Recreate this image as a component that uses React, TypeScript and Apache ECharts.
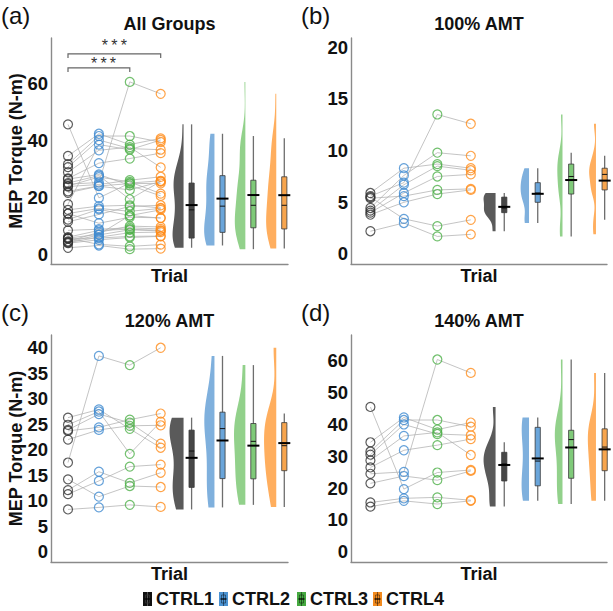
import React, { useEffect, useRef } from "react";
import * as echarts from "echarts";

// ---------------- DATA ----------------
const groups = ["CTRL1", "CTRL2", "CTRL3", "CTRL4"];

// rows = subjects, columns = CTRL1..CTRL4 (MEP torque, N-m)
const amt100 = [
  [5.9, 8.3, 8.7, 8.3],
  [5.6, 6.9, 13.5, 12.6],
  [5.4, 5.6, 6.2, 6.3],
  [5.5, 3.4, 2.7, 3.3],
  [4.45, 7.6, 9.8, 9.5],
  [4.2, 6.7, 8.5, 8.1],
  [4.0, 5.9, 7.5, 7.7],
  [3.8, 5.0, 5.8, 6.2],
  [2.2, 3.0, 1.7, 1.9],
];

const amt120 = [
  [8.3, 8.7, 9.2, 8.8],
  [17.5, 38.4, 36.6, 40.0],
  [14.2, 10.8, 12.9, 12.7],
  [12.1, 15.7, 13.5, 15.5],
  [11.3, 13.9, 16.7, 17.1],
  [26.3, 27.9, 24.1, 20.4],
  [24.9, 27.5, 19.2, 25.5],
  [23.9, 27.0, 25.3, 21.2],
  [23.7, 24.4, 25.9, 27.1],
  [22.0, 23.9, 24.7, 24.8],
];

const amt140 = [
  [45.5, 19.7, 24.9, 25.7],
  [24.5, 25.1, 60.4, 56.2],
  [21.5, 23.8, 22.5, 25.4],
  [15.5, 16.8, 17.1, 16.2],
  [14.2, 16.0, 15.0, 16.0],
  [34.4, 42.2, 38.4, 40.6],
  [31.5, 41.4, 41.4, 39.3],
  [30.5, 40.0, 37.0, 36.6],
  [28.7, 36.4, 37.5, 30.4],
  [26.5, 31.9, 33.5, 35.4],
];

const allGroups = [...amt100, ...amt120, ...amt140];

const ticksAll = [0, 20, 40, 60];
const ticks100 = [0, 5, 10, 15, 20];
const ticks120 = [0, 5, 10, 15, 20, 25, 30, 35, 40];
const ticks140 = [0, 10, 20, 30, 40, 50, 60];

// significance brackets for "All Groups": [fromGroup, toGroup, barY, tipY, starX, starY]
const brackets = [
  [1, 3, 65.3, 63.9, 2.15, 66.8],
  [1, 4, 70.2, 68.8, 2.5, 73.2],
];

// ---------------- STYLE ----------------
const FONT = '"Liberation Sans", Arial, Helvetica, sans-serif';
const pointColors = ["#333333", "#3f8ad0", "#4fb04a", "#ff8c1a"];
const violinColors = ["#5a5a5a", "#7fb0dd", "#92d18b", "#ffae5e"];
const boxColors = ["#474747", "#6aa5da", "#7fca79", "#f7a54e"];
const legendColors = ["#111111", "#4b93d3", "#45a940", "#f28a1e"];
const axisColor = "#8a8a8a";

type PanelCfg = {
  rows: number[][];
  left: number;
  top: number;
  width: number;
  height: number;
  yMin: number;
  yMax: number;
  xMin: number;
  xMax: number;
  ticks: number[];
  violinPx: number;
  title: string;
  tag: string;
};

const panels: PanelCfg[] = [
  { rows: allGroups, left: 51, top: 38, width: 237, height: 226, yMin: -3.5, yMax: 75.8, xMin: 0.45, xMax: 8.12, ticks: ticksAll, violinPx: 11, title: "All Groups", tag: "(a)" },
  { rows: amt100, left: 351, top: 38, width: 256, height: 226, yMin: -0.97, yMax: 20.9, xMin: 0.42, xMax: 8.07, ticks: ticks100, violinPx: 12, title: "100% AMT", tag: "(b)" },
  { rows: amt120, left: 51, top: 335, width: 237, height: 227, yMin: -2.0, yMax: 42.5, xMin: 0.45, xMax: 8.12, ticks: ticks120, violinPx: 14, title: "120% AMT", tag: "(c)" },
  { rows: amt140, left: 351, top: 335, width: 256, height: 227, yMin: -3.2, yMax: 68.1, xMin: 0.42, xMax: 8.07, ticks: ticks140, violinPx: 12, title: "140% AMT", tag: "(d)" },
];

// ---------------- STATS ----------------
function quantile(s: number[], p: number) {
  const h = (s.length - 1) * p;
  const lo = Math.floor(h);
  const hi = Math.min(lo + 1, s.length - 1);
  return s[lo] + (h - lo) * (s[hi] - s[lo]);
}

function boxStats(vals: number[]) {
  const s = [...vals].sort((a, b) => a - b);
  const q1 = quantile(s, 0.25);
  const med = quantile(s, 0.5);
  const q3 = quantile(s, 0.75);
  const iqr = q3 - q1;
  const lo = s.filter((v) => v >= q1 - 1.5 * iqr)[0];
  const hiArr = s.filter((v) => v <= q3 + 1.5 * iqr);
  const hi = hiArr[hiArr.length - 1];
  const mean = s.reduce((a, b) => a + b, 0) / s.length;
  return { q1, med, q3, lo, hi, mean, min: s[0], max: s[s.length - 1] };
}

function kde(vals: number[]) {
  const n = vals.length;
  const s = [...vals].sort((a, b) => a - b);
  const mean = s.reduce((a, b) => a + b, 0) / n;
  const sd = Math.sqrt(s.reduce((a, b) => a + (b - mean) * (b - mean), 0) / (n - 1));
  const iqr = quantile(s, 0.75) - quantile(s, 0.25);
  const spread = iqr > 0 ? Math.min(sd, iqr / 1.34) : sd;
  const bw = 0.9 * spread * Math.pow(n, -0.2);
  const ys: number[] = [];
  const ds: number[] = [];
  const N = 100;
  for (let k = 0; k < N; k++) {
    const y = s[0] + ((s[n - 1] - s[0]) * k) / (N - 1);
    let d = 0;
    for (const v of s) {
      const z = (y - v) / bw;
      d += Math.exp(-0.5 * z * z);
    }
    d /= n * bw * Math.sqrt(2 * Math.PI);
    ys.push(y);
    ds.push(d);
  }
  return { ys, ds };
}

// ---------------- OPTION ----------------
function buildOption() {
  const grid: any[] = [];
  const xAxis: any[] = [];
  const yAxis: any[] = [];
  const series: any[] = [];
  const graphic: any[] = [];

  panels.forEach((p, pi) => {
    grid.push({ left: p.left, top: p.top, width: p.width, height: p.height, containLabel: false });
    xAxis.push({
      type: "value",
      gridIndex: pi,
      min: p.xMin,
      max: p.xMax,
      axisLine: { show: true, onZero: false, lineStyle: { color: axisColor, width: 1.4 } },
      axisTick: { show: false },
      axisLabel: { show: false },
      splitLine: { show: false },
    });
    yAxis.push({
      type: "value",
      gridIndex: pi,
      min: p.yMin,
      max: p.yMax,
      axisLine: { show: true, onZero: false, lineStyle: { color: axisColor, width: 1.4 } },
      axisTick: { show: false },
      splitLine: { show: false },
      axisLabel: {
        customValues: p.ticks,
        fontSize: 18.5,
        fontWeight: "bold",
        fontFamily: FONT,
        color: "#111",
        margin: 3,
      },
    });

    // paired lines
    p.rows.forEach((r) => {
      series.push({
        type: "line",
        xAxisIndex: pi,
        yAxisIndex: pi,
        data: r.map((v, g) => [g + 1, v]),
        symbol: "none",
        silent: true,
        lineStyle: { color: "#b0b0b0", width: 1, opacity: 0.75 },
        z: 1,
      });
    });

    // points
    groups.forEach((g, gi) => {
      series.push({
        type: "scatter",
        name: g,
        xAxisIndex: pi,
        yAxisIndex: pi,
        data: p.rows.map((r) => [gi + 1, r[gi]]),
        symbol: "circle",
        symbolSize: 9,
        itemStyle: { color: "rgba(255,255,255,0)", borderColor: pointColors[gi], borderWidth: 1.2 },
        z: 3,
      });
    });

    // half violins
    const profiles = groups.map((_, gi) => kde(p.rows.map((r) => r[gi])));
    const dmax = Math.max(...profiles.map((pr) => Math.max(...pr.ds)));
    const violinData = groups.map((_, gi) => {
      const st = boxStats(p.rows.map((r) => r[gi]));
      return [5 + gi - 0.26, st.min, st.max];
    });
    series.push({
      type: "custom",
      xAxisIndex: pi,
      yAxisIndex: pi,
      data: violinData,
      encode: { x: 0, y: [1, 2] },
      z: 2,
      renderItem: (params: any, api: any) => {
        const gi = params.dataIndex;
        const pr = profiles[gi];
        const edge = violinData[gi][0];
        const pts: number[][] = [];
        const b = api.coord([edge, pr.ys[0]]);
        const t = api.coord([edge, pr.ys[pr.ys.length - 1]]);
        pts.push([b[0], b[1]]);
        pts.push([t[0], t[1]]);
        for (let k = pr.ys.length - 1; k >= 0; k--) {
          const c = api.coord([edge, pr.ys[k]]);
          pts.push([c[0] - (pr.ds[k] / dmax) * p.violinPx, c[1]]);
        }
        return { type: "polygon", shape: { points: pts }, style: { fill: violinColors[gi], stroke: "none" } };
      },
    });

    // boxes
    const boxData = groups.map((_, gi) => {
      const st = boxStats(p.rows.map((r) => r[gi]));
      return [5 + gi, st.lo, st.q1, st.med, st.q3, st.hi, st.mean];
    });
    series.push({
      type: "custom",
      xAxisIndex: pi,
      yAxisIndex: pi,
      data: boxData,
      encode: { x: 0, y: [1, 5] },
      z: 4,
      renderItem: (params: any, api: any) => {
        const gi = params.dataIndex;
        const d = boxData[gi];
        const lo = api.coord([d[0], d[1]]);
        const q1 = api.coord([d[0], d[2]]);
        const md = api.coord([d[0], d[3]]);
        const q3 = api.coord([d[0], d[4]]);
        const hi = api.coord([d[0], d[5]]);
        const mn = api.coord([d[0], d[6]]);
        const x = lo[0];
        const hw = 2.6;
        return {
          type: "group",
          children: [
            { type: "line", shape: { x1: x, y1: lo[1], x2: x, y2: hi[1] }, style: { stroke: "#6e6e6e", lineWidth: 1.3 } },
            {
              type: "rect",
              shape: { x: x - hw, y: q3[1], width: hw * 2, height: q1[1] - q3[1] },
              style: { fill: boxColors[gi], stroke: "#3a3a3a", lineWidth: 0.8 },
            },
            { type: "line", shape: { x1: x - hw, y1: md[1], x2: x + hw, y2: md[1] }, style: { stroke: "#111", lineWidth: 1 } },
            { type: "line", shape: { x1: x - 6, y1: mn[1], x2: x + 6, y2: mn[1] }, style: { stroke: "#000", lineWidth: 2 } },
          ],
        };
      },
    });

    if (pi === 0) {
      series.push({
        type: "custom",
        xAxisIndex: pi,
        yAxisIndex: pi,
        data: brackets,
        encode: { x: [0, 1], y: [2, 3] },
        z: 5,
        renderItem: (params: any, api: any) => {
          const b = brackets[params.dataIndex];
          const a1 = api.coord([b[0], b[3]]);
          const a2 = api.coord([b[0], b[2]]);
          const a3 = api.coord([b[1], b[2]]);
          const a4 = api.coord([b[1], b[3]]);
          const st = api.coord([b[4], b[5]]);
          return {
            type: "group",
            children: [
              {
                type: "polyline",
                shape: { points: [a1, a2, a3, a4] },
                style: { stroke: "#666", lineWidth: 1.2, fill: "none" },
              },
              {
                type: "text",
                style: {
                  text: "*\u2009*\u2009*",
                  x: st[0],
                  y: st[1],
                  textAlign: "center",
                  textVerticalAlign: "middle",
                  font: `16px ${FONT}`,
                  fill: "#333",
                },
              },
            ],
          };
        },
      });
    }

    // texts
    const cx = p.left + p.width / 2;
    graphic.push({
      type: "text",
      x: cx,
      y: p.top - 14,
      style: { text: p.title, font: `bold 18px ${FONT}`, fill: "#111", textAlign: "center", textVerticalAlign: "middle" },
    });
    graphic.push({
      type: "text",
      x: p.left + p.width / 2,
      y: p.top + p.height + 12,
      style: { text: "Trial", font: `bold 18px ${FONT}`, fill: "#111", textAlign: "center", textVerticalAlign: "middle" },
    });
    graphic.push({
      type: "text",
      x: p.left - 50,
      y: p.top - 23,
      style: { text: p.tag, font: `24px ${FONT}`, fill: "#111", textAlign: "left", textVerticalAlign: "middle" },
    });
    if (p.left < 100) {
      graphic.push({
        type: "text",
        x: 15.5,
        y: p.top + p.height / 2,
        rotation: Math.PI / 2,
        style: { text: "MEP Torque (N-m)", font: `bold 18px ${FONT}`, fill: "#111", textAlign: "center", textVerticalAlign: "middle" },
      });
    }
  });

  // legend
  const legendIconX = [143, 219, 297, 373];
  groups.forEach((g, gi) => {
    const x = legendIconX[gi];
    graphic.push({ type: "rect", shape: { x, y: 592, width: 9, height: 14 }, style: { fill: legendColors[gi] } });
    graphic.push({ type: "line", shape: { x1: x + 4.5, y1: 592, x2: x + 4.5, y2: 606 }, style: { stroke: gi === 0 ? "#555" : "rgba(0,0,0,0.45)", lineWidth: 1 } });
    graphic.push({ type: "rect", shape: { x: x + 2.5, y: 595, width: 4, height: 8 }, style: { fill: "none", stroke: gi === 0 ? "#333" : "rgba(0,0,0,0.5)", lineWidth: 0.8 } });
    graphic.push({ type: "line", shape: { x1: x + 1.5, y1: 599, x2: x + 7.5, y2: 599 }, style: { stroke: "#000", lineWidth: 1.2 } });
    graphic.push({
      type: "text",
      x: x + 13,
      y: 599,
      style: { text: g, font: `bold 18px ${FONT}`, fill: "#111", textAlign: "left", textVerticalAlign: "middle" },
    });
  });

  return { animation: false, backgroundColor: "#ffffff", grid, xAxis, yAxis, series, graphic };
}

export default function App() {
  const ref = useRef<HTMLDivElement>(null);
  useEffect(() => {
    document.body.style.margin = "0";
    const chart = echarts.init(ref.current!, undefined, { renderer: "svg" });
    chart.setOption(buildOption() as any);
    return () => chart.dispose();
  }, []);
  return <div ref={ref} style={{ width: 613, height: 611 }} />;
}
